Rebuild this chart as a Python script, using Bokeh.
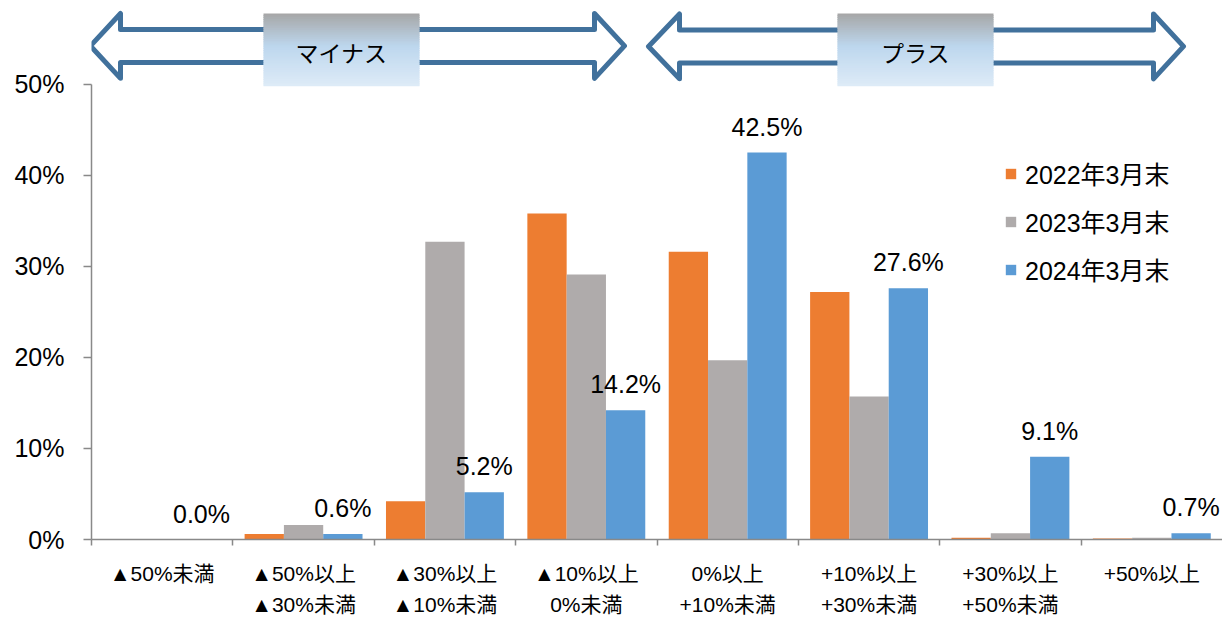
from bokeh.plotting import figure
from bokeh.models import Range1d, FixedTicker, LinearAxis, Legend, LegendItem, ColumnDataSource
from bokeh.core.properties import value
from bokeh.embed import file_html
from bokeh.resources import INLINE

# ---------------- data ----------------
categories_line1 = ["▲50%未満", "▲50%以上", "▲30%以上", "▲10%以上", "0%以上", "+10%以上", "+30%以上", "+50%以上"]
categories_line2 = ["", "▲30%未満", "▲10%未満", "0%未満", "+10%未満", "+30%未満", "+50%未満", ""]
series_names = ["2022年3月末", "2023年3月末", "2024年3月末"]
values_2022 = [0.0, 0.6, 4.2, 35.8, 31.6, 27.2, 0.2, 0.1]
values_2023 = [0.0, 1.6, 32.7, 29.1, 19.7, 15.7, 0.7, 0.2]
values_2024 = [0.0, 0.6, 5.2, 14.2, 42.5, 27.6, 9.1, 0.7]
y_ticks = [0, 10, 20, 30, 40, 50]
band_labels = ["マイナス", "プラス"]

colors = ["#ED7D31", "#AFABAB", "#5B9BD5"]
FONT = "Liberation Sans, Noto Sans CJK JP"
AXIS_GRAY = "#898989"

# ---------------- geometry ----------------
W, H = 1222, 618
LEFT, BOTTOM = 91, 78           # canvas borders
FRAME_W = W - LEFT
FRAME_H = H - BOTTOM
N = len(categories_line1)
CW = FRAME_W / N                # px per category
PY = 9.12                       # px per percent
Y_END = FRAME_H / PY
BAR_W = 0.278

# pixel helpers for the decorations (page origin = canvas origin)
ORIGIN_X = LEFT
ORIGIN_Y = FRAME_H
def wx(px):
    return (px - ORIGIN_X) / CW
def wy(py):
    return (ORIGIN_Y - py) / PY

p = figure(width=W, height=H, output_backend="svg", toolbar_location=None,
           x_range=Range1d(0, N), y_range=Range1d(0, Y_END),
           min_border_left=LEFT, min_border_right=0, min_border_top=0,
           min_border_bottom=BOTTOM, background_fill_color="white",
           border_fill_color="white")
p.outline_line_color = None
p.xgrid.visible = False
p.ygrid.visible = False

# ---------------- bars ----------------
series = [values_2022, values_2023, values_2024]
offsets = [-BAR_W, 0.0, BAR_W]
renderers = []
for vals, off, col in zip(series, offsets, colors):
    src = ColumnDataSource(dict(x=[i + 0.5 + off for i in range(N)], top=vals))
    r = p.vbar(x="x", top="top", width=BAR_W, source=src, fill_color=col, line_color=None)
    renderers.append(r)

# data labels for 2024
lab_src = ColumnDataSource(dict(x=[i + 0.5 + BAR_W for i in range(N)], y=values_2024,
                                t=[f"{v:.1f}%" for v in values_2024]))
p.text(x="x", y="y", text="t", source=lab_src, text_align="center", text_baseline="alphabetic",
       y_offset=-26, text_font=value(FONT), text_font_size="25px", text_color="black")

# ---------------- y axis ----------------
ya = p.yaxis[0]
ya.ticker = FixedTicker(ticks=y_ticks)
ya.major_label_overrides = {v: f"{v}%" for v in y_ticks}
ya.bounds = (0, 50)
ya.major_tick_out = 8
ya.major_tick_in = 0
ya.minor_tick_line_color = None
ya.axis_line_color = AXIS_GRAY
ya.axis_line_width = 1.5
ya.major_tick_line_color = AXIS_GRAY
ya.major_tick_line_width = 1.5
ya.major_label_standoff = 19
ya.major_label_text_font = FONT
ya.major_label_text_font_size = "25px"
ya.major_label_text_color = "black"

# ---------------- x axes ----------------
xa = p.xaxis[0]
xa.ticker = FixedTicker(ticks=list(range(N)))
xa.major_label_overrides = {i: "" for i in range(N + 1)}
xa.major_label_text_font_size = "0px"
xa.major_label_standoff = 0
xa.major_tick_out = 6
xa.major_tick_in = 0
xa.minor_tick_line_color = None
xa.axis_line_color = AXIS_GRAY
xa.axis_line_width = 1.5
xa.major_tick_line_color = AXIS_GRAY
xa.major_tick_line_width = 1.5

centers = [i + 0.5 for i in range(N)]
for labels, standoff in ((categories_line1, 16), (categories_line2, 5)):
    ax = LinearAxis(ticker=FixedTicker(ticks=centers),
                    major_label_overrides={c: t for c, t in zip(centers, labels)})
    ax.axis_line_color = None
    ax.major_tick_line_color = None
    ax.minor_tick_line_color = None
    ax.major_tick_out = 0
    ax.major_tick_in = 0
    ax.major_label_standoff = standoff
    ax.major_label_text_font = FONT
    ax.major_label_text_font_size = "21px"
    ax.major_label_text_color = "black"
    p.add_layout(ax, "below")

# ---------------- legend ----------------
legend = Legend(items=[LegendItem(label=n, renderers=[r]) for n, r in zip(series_names, renderers)],
                location=(1004 - ORIGIN_X, ORIGIN_Y - 288),
                glyph_width=13, glyph_height=13, label_height=29, spacing=12,
                label_standoff=8, padding=0, margin=0, border_line_color=None,
                background_fill_alpha=0, label_text_font=FONT, label_text_font_size="25px",
                label_text_color="black")
p.add_layout(legend)

# ---------------- top double arrows with labelled boxes ----------------
ARROW_BLUE = "#41719C"
arrows = [  # tipL, baseL, baseR, tipR, cy  (page px)
    (90, 120, 594, 624, 45.5),
    (648, 679, 1153, 1183, 46.0),
]
boxes = [(263, 419), (837, 993)]
HB, HH = 16.5, 32.5
BOX_T, BOX_B = 13, 86

def lerp(a, b, t):
    return tuple(int(round(a[k] + (b[k] - a[k]) * t)) for k in range(3))

c_top, c_mid, c_bot = (166, 166, 166), (189, 215, 238), (222, 235, 247)
for (tl, bl, br, tr, cy), (bx0, bx1), label in zip(arrows, boxes, band_labels):
    pts = [(tl, cy), (bl, cy - HH), (bl, cy - HB), (br, cy - HB), (br, cy - HH), (tr, cy),
           (br, cy + HH), (br, cy + HB), (bl, cy + HB), (bl, cy + HH)]
    p.patch([wx(a) for a, b in pts], [wy(b) for a, b in pts], fill_alpha=0,
            line_color=ARROW_BLUE, line_width=5, line_join="round")
    nstrip = 40
    tops, bots, cols = [], [], []
    for k in range(nstrip):
        t = (k + 0.5) / nstrip
        col = lerp(c_top, c_mid, t / 0.45) if t < 0.45 else lerp(c_mid, c_bot, (t - 0.45) / 0.55)
        cols.append("#%02x%02x%02x" % col)
        tops.append(wy(BOX_T + (BOX_B - BOX_T) * k / nstrip))
        bots.append(wy(min(BOX_B, BOX_T + (BOX_B - BOX_T) * (k + 1) / nstrip + 1.0)))
    p.quad(left=[wx(bx0)] * nstrip, right=[wx(bx1)] * nstrip, top=tops, bottom=bots,
           fill_color=cols, line_color=None)
    p.text(x=[wx((bx0 + bx1) / 2)], y=[wy(52)], text=[label], text_align="center",
           text_baseline="middle", text_font=value("Noto Sans CJK JP"),
           text_font_size="23px", text_color="black")

open("out.html", "w").write(file_html(p, INLINE))
